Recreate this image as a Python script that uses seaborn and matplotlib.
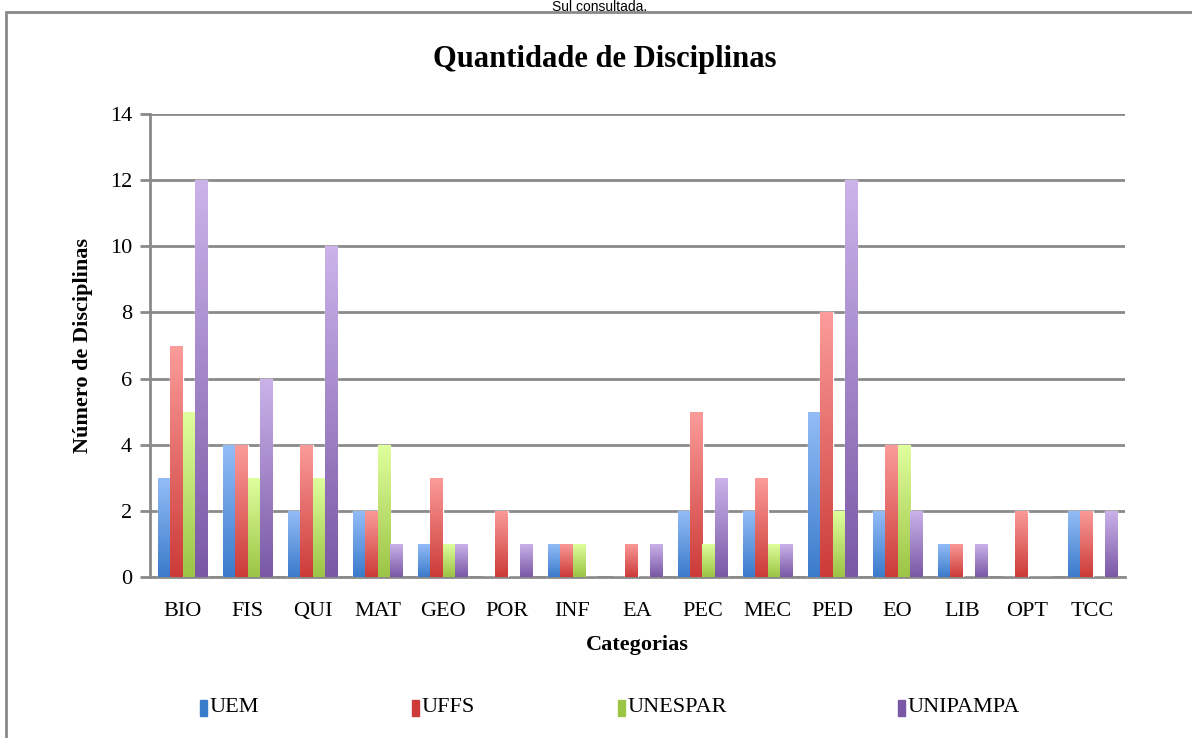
import matplotlib
matplotlib.use("Agg")
import matplotlib.pyplot as plt
import matplotlib.patches as mpatches
import numpy as np
import pandas as pd
import seaborn as sns

categorias = ['BIO', 'FIS', 'QUI', 'MAT', 'GEO', 'POR', 'INF', 'EA',
              'PEC', 'MEC', 'PED', 'EO', 'LIB', 'OPT', 'TCC']
uem = [3, 4, 2, 2, 1, 0, 1, 0, 2, 2, 5, 2, 1, 0, 2]
uffs = [7, 4, 4, 2, 3, 2, 1, 1, 5, 3, 8, 4, 1, 2, 2]
unespar = [5, 3, 3, 4, 1, 0, 1, 0, 1, 1, 2, 4, 0, 0, 0]
unipampa = [12, 6, 10, 1, 1, 1, 0, 1, 3, 1, 12, 2, 1, 0, 2]
universidades = ['UEM', 'UFFS', 'UNESPAR', 'UNIPAMPA']
yticks = [0, 2, 4, 6, 8, 10, 12, 14]

# cores (topo claro, base escura) para o gradiente
cores_topo = ['#94bdf7', '#fb9c9a', '#e0ff9e', '#cbb3ea']
cores_base = ['#3b7bcb', '#cc3b38', '#9cc445', '#7a58a6']

df = pd.DataFrame({
    'cat': categorias * 4,
    'uni': sum([[u] * len(categorias) for u in universidades], []),
    'val': uem + uffs + unespar + unipampa,
})

sns.set_theme(style='white', rc={'text.color': 'black',
                                 'axes.labelcolor': 'black',
                                 'xtick.color': 'black',
                                 'ytick.color': 'black'})
plt.rcParams['font.family'] = ['Liberation Serif', 'DejaVu Serif']

fig = plt.figure(figsize=(11.92, 7.38), dpi=100)
ax = fig.add_axes([150 / 1192, 1 - 577 / 738, 975 / 1192, 463 / 738])

sns.barplot(data=df, x='cat', y='val', hue='uni', order=categorias,
            hue_order=universidades, palette=cores_base, width=0.74,
            gap=0, ax=ax, legend=False, zorder=3)

ax.set_ylim(0, 14)
ax.set_xlim(-0.5, len(categorias) - 0.5)

# gradiente vertical em cada barra
n = len(categorias)
for i, p in enumerate(ax.patches[:4 * n]):
    k = i // n
    h = p.get_height()
    if h <= 0:
        continue
    c1 = np.array(matplotlib.colors.to_rgb(cores_topo[k]))
    c2 = np.array(matplotlib.colors.to_rgb(cores_base[k]))
    t = np.linspace(0, 1, 64)[:, None]
    grad = (c1 * (1 - t) + c2 * t)[:, None, :]
    x0 = p.get_x()
    im = ax.imshow(grad, extent=[x0, x0 + p.get_width(), 0, h],
                   aspect='auto', zorder=4, origin='upper')
    im.set_clip_path(p)

ax.set_yticks(yticks)
ax.yaxis.grid(True, color='#8a8a8a', linewidth=2, zorder=0)
ax.set_axisbelow(True)
for s in ['top', 'right']:
    ax.spines[s].set_visible(False)
ax.spines['left'].set_color('#8a8a8a')
ax.spines['left'].set_linewidth(2)
ax.spines['bottom'].set_color('#8a8a8a')
ax.spines['bottom'].set_linewidth(2)
ax.tick_params(axis='y', left=True, length=7, width=2, color='#8a8a8a',
               labelcolor='black', labelsize=16, pad=6)
ax.tick_params(axis='x', bottom=False, labelcolor='black', labelsize=16,
               pad=12)

ax.set_xlabel('Categorias', fontsize=16, fontweight='bold', labelpad=10)
ax.set_ylabel('Número de Disciplinas', fontsize=16, fontweight='bold',
              labelpad=12)
fig.text(605 / 1192, 1 - 60 / 738, 'Quantidade de Disciplinas',
         ha='center', va='center', fontsize=22, fontweight='bold')

# texto do documento acima da moldura
fig.text(600 / 1192, 1, 'Sul consultada.', ha='center',
         va='top', fontsize=10, family='Liberation Sans')

# legenda
xs = [200, 412, 618, 898]
for k, u in enumerate(universidades):
    fig.patches.append(mpatches.Rectangle(
        (xs[k] / 1192, 1 - 716 / 738), 7 / 1192, 16 / 738,
        transform=fig.transFigure, color=cores_base[k], figure=fig))
    fig.text((xs[k] + 10) / 1192, 1 - 708 / 738, u, ha='left',
             va='center', fontsize=16)

# moldura
fig.patches.append(mpatches.Rectangle(
    (6 / 1192, -0.01), 1.1, 1 - 12 / 738 + 0.01, transform=fig.transFigure,
    fill=False, edgecolor='#8a8a8a', linewidth=2, figure=fig))

fig.savefig('out.png', dpi=100)
